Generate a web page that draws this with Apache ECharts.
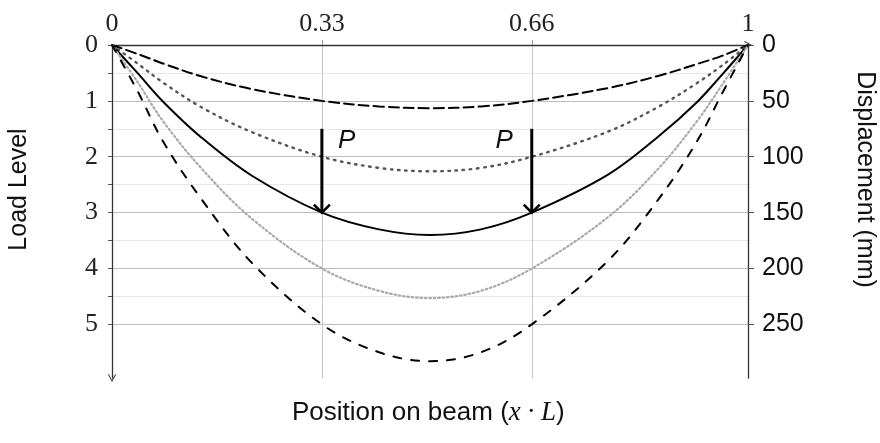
<!DOCTYPE html>
<html>
<head>
<meta charset="utf-8">
<script src="https://cdn.jsdelivr.net/npm/echarts@6/dist/echarts.min.js"></script>
<style>
  html, body { margin: 0; padding: 0; background: #fff; }
  #chart { width: 880px; height: 443px; }
</style>
</head>
<body>
<div id="chart"></div>
<script>
// positions along the beam (x / L)
const positions = [0, 0.04, 0.08, 0.14, 0.22, 0.33, 0.42, 0.5, 0.58, 0.66, 0.78, 0.86, 0.92, 0.96, 1];

// deflected shapes, in load-level units (50 mm per level)
const level1 = [0, 0.16, 0.33, 0.56, 0.79, 1.0, 1.10, 1.13, 1.10, 1.0, 0.77, 0.55, 0.34, 0.19, 0];
const level2 = [0, 0.33, 0.67, 1.11, 1.56, 2.0, 2.20, 2.26, 2.20, 2.0, 1.55, 1.10, 0.68, 0.36, 0];
const level3 = [0, 0.50, 1.01, 1.65, 2.34, 3.0, 3.30, 3.40, 3.30, 3.0, 2.32, 1.63, 1.02, 0.52, 0];
const level4 = [0, 0.66, 1.36, 2.20, 3.11, 4.0, 4.40, 4.53, 4.40, 4.0, 3.08, 2.20, 1.36, 0.70, 0];
const level5 = [0, 0.82, 1.72, 2.75, 3.90, 5.0, 5.50, 5.66, 5.50, 5.0, 3.86, 2.75, 1.72, 0.85, 0];

const xTickLabels = [0, 0.33, 0.66, 1];
const loadTicks = [0, 1, 2, 3, 4, 5];
const loadGridTicks = [0, 0.5, 1, 1.5, 2, 2.5, 3, 3.5, 4, 4.5, 5];
const dispTicks = [0, 50, 100, 150, 200, 250];

// point loads
const loadPoints = [0.33, 0.66];
const arrowFrom = 1.5;
const arrowTo = 3;

const loadMax = 5.96;
const dispMax = loadMax * 50;

const chevron = 'path://M5,0 L10,9 L9,10 L5,2.6 L1,10 L0,9 Z';
const serif = '"Liberation Serif", "DejaVu Serif", serif';
const sans = '"Liberation Sans", Arial, sans-serif';

const pairs = (vals) => positions.map((x, i) => [x, vals[i]]);

const curveStyles = [
  { data: level1, color: '#000', type: [10, 5], width: 2 },
  { data: level2, color: '#555', type: [1.6, 5.6], width: 2.4 },
  { data: level3, color: '#000', type: 'solid', width: 2 },
  { data: level4, color: '#aaa', type: [1.6, 2.8], width: 2.2 },
  { data: level5, color: '#000', type: [8, 10], width: 2 },
];

const chart = echarts.init(document.getElementById('chart'));

const option = {
  animation: false,
  title: {
    left: 287,
    top: 394,
    text: '{a|Position on beam (}{m|x · L}{a|)}',
    textStyle: {
      fontWeight: 'normal',
      rich: {
        a: { fontFamily: sans, fontSize: 26, fontWeight: 'normal', color: '#111' },
        m: { fontFamily: serif, fontSize: 27, fontWeight: 'normal', fontStyle: 'italic', color: '#111' },
      },
    },
  },
  grid: { left: 112, right: 132, top: 45, bottom: 65, outerBoundsMode: 'none' },
  xAxis: {
    type: 'value',
    position: 'top',
    min: 0,
    max: 1,
    axisLine: {
      show: true,
      symbol: ['none', chevron],
      symbolSize: [11, 8],
      lineStyle: { color: '#333', width: 1.3 },
    },
    axisTick: { show: true, customValues: [0.33, 0.66], length: 5, lineStyle: { color: '#999' } },
    axisLabel: {
      customValues: xTickLabels,
      formatter: (v) => String(v),
      fontFamily: serif,
      fontSize: 26,
      color: '#222',
      margin: 8,
    },
    splitLine: { show: true, lineStyle: { color: '#c8c8c8', width: 1 } },
  },
  yAxis: [
    {
      type: 'value',
      position: 'left',
      inverse: true,
      min: 0,
      max: loadMax,
      name: 'Load Level',
      nameLocation: 'middle',
      nameRotate: 90,
      nameGap: 80,
      nameTextStyle: { fontFamily: sans, fontSize: 25, color: '#111', padding: [0, 0, 0, 44] },
      axisLine: {
        show: true,
        symbol: [chevron, 'none'],
        symbolSize: [11, 8],
        lineStyle: { color: '#333', width: 1.3 },
      },
      axisTick: { show: true, customValues: loadGridTicks, length: 4, lineStyle: { color: '#555' } },
      axisLabel: {
        customValues: loadTicks,
        formatter: (v) => String(v),
        fontFamily: serif,
        fontSize: 26,
        color: '#222',
        margin: 14,
      },
      splitLine: { show: true, lineStyle: { color: ['#bdbdbd', '#e8e8e8'], width: 1 } },
    },
    {
      type: 'value',
      position: 'right',
      inverse: true,
      min: 0,
      max: dispMax,
      name: 'Displacement (mm)',
      nameLocation: 'middle',
      nameRotate: -90,
      nameGap: 104,
      nameTextStyle: { fontFamily: sans, fontSize: 25, color: '#111', padding: [0, 64, 0, 0] },
      axisLine: { show: true, lineStyle: { color: '#333', width: 1.3 } },
      axisTick: { show: true, customValues: dispTicks, length: 6, lineStyle: { color: '#555' } },
      axisLabel: {
        customValues: dispTicks,
        formatter: (v) => String(v),
        fontFamily: sans,
        fontSize: 25,
        color: '#111',
        margin: 14,
      },
      splitLine: { show: false },
    },
  ],
  series: [
    ...curveStyles.map((c) => ({
      type: 'line',
      data: pairs(c.data),
      smooth: 0.35,
      showSymbol: false,
      z: 2,
      lineStyle: { color: c.color, type: c.type, width: c.width, cap: 'round' },
    })),
    {
      type: 'custom',
      z: 5,
      data: loadPoints.map((x, i) => [x, arrowFrom, arrowTo, i === 0 ? 1 : -1]),
      renderItem: (params, api) => {
        const top = api.coord([api.value(0), api.value(1)]);
        const tip = api.coord([api.value(0), api.value(2)]);
        const side = api.value(3);
        return {
          type: 'group',
          children: [
            {
              type: 'line',
              shape: { x1: top[0], y1: top[1], x2: tip[0], y2: tip[1] - 1.5 },
              style: { stroke: '#000', lineWidth: 3 },
            },
            {
              type: 'polyline',
              shape: { points: [[tip[0] - 8, tip[1] - 8], [tip[0], tip[1]], [tip[0] + 8, tip[1] - 8]] },
              style: { stroke: '#000', lineWidth: 2.6, fill: 'none' },
            },
            {
              type: 'text',
              x: top[0] + (side > 0 ? 16 : -19),
              y: top[1] + 12,
              style: {
                text: 'P',
                fontFamily: sans,
                fontSize: 26,
                fontStyle: 'italic',
                fill: '#111',
                align: side > 0 ? 'left' : 'right',
                verticalAlign: 'middle',
              },
            },
          ],
        };
      },
    },
  ],
};

chart.setOption(option);
</script>
</body>
</html>
